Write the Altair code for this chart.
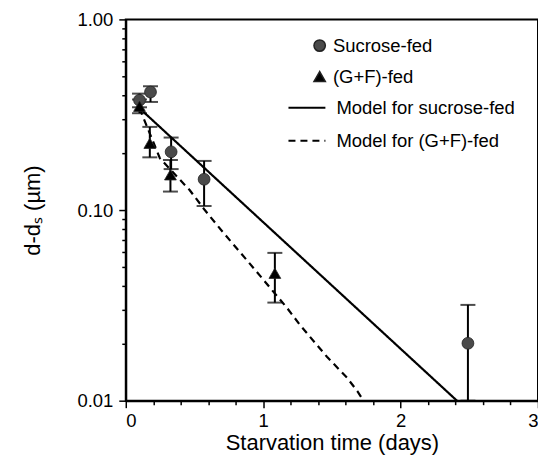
import altair as alt
import pandas as pd

# ---- data ----
suc_x = [0.10, 0.18, 0.33, 0.57, 2.49]
suc_y = [0.377, 0.416, 0.202, 0.145, 0.020]
suc_lo = [0.346, 0.369, 0.164, 0.105, 0.010]
suc_hi = [0.408, 0.446, 0.240, 0.181, 0.0318]

gf_x = [0.10, 0.175, 0.325, 1.085]
gf_y = [0.350, 0.224, 0.153, 0.0466]
gf_lo = [0.322, 0.189, 0.125, 0.0327]
gf_hi = [0.380, 0.273, 0.183, 0.0596]

model_suc_x = [0.10, 2.41]
model_suc_y = [0.342, 0.010]

model_gf_x = [0.10, 0.248, 0.466, 0.575, 0.706, 0.867, 0.99, 1.063, 1.173,
              1.267, 1.391, 1.464, 1.61, 1.69, 1.726]
model_gf_y = [0.342, 0.187, 0.127, 0.100, 0.0767, 0.0561, 0.0441, 0.0381, 0.0307,
              0.025, 0.0196, 0.017, 0.0132, 0.0111, 0.0101]

series_names = ["Sucrose-fed", "(G+F)-fed"]
model_names = ["Model for sucrose-fed", "Model for (G+F)-fed"]

x_ticks = [0, 0.2, 0.4, 0.6, 0.8, 1, 1.2, 1.4, 1.6, 1.8, 2, 2.2, 2.4, 2.6, 2.8, 3]
y_ticks = [0.01, 0.02, 0.03, 0.04, 0.05, 0.06, 0.07, 0.08, 0.09,
           0.1, 0.2, 0.3, 0.4, 0.5, 0.6, 0.7, 0.8, 0.9, 1]

# ---- tables ----
pts = pd.DataFrame({
    "x": suc_x + gf_x,
    "y": suc_y + gf_y,
    "lo": suc_lo + gf_lo,
    "hi": suc_hi + gf_hi,
    "series": [series_names[0]] * len(suc_x) + [series_names[1]] * len(gf_x),
})
lines = pd.DataFrame({
    "x": model_suc_x + model_gf_x,
    "y": model_suc_y + model_gf_y,
    "model": [model_names[0]] * len(model_suc_x) + [model_names[1]] * len(model_gf_x),
})

FONT = "Liberation Sans"

x_major = "datum.value == 0 || datum.value == 1 || datum.value == 2 || datum.value == 3"
y_major = "datum.value == 0.01 || datum.value == 0.1 || datum.value == 1"

x_axis = alt.Axis(
    values=x_ticks,
    labelExpr=f"({x_major}) ? format(datum.value, 'd') : ''",
    tickSize={"condition": {"test": x_major, "value": 7}, "value": 4},
    labelPadding=4,
    title="Starvation time (days)",
    titlePadding=2,
    grid=False,
)
y_axis = alt.Axis(
    values=y_ticks,
    labelExpr=f"({y_major}) ? format(datum.value, '.2f') : ''",
    tickSize={"condition": {"test": y_major, "value": 7}, "value": 4},
    labelPadding=6,
    title="d-dₛ (µm)",
    titlePadding=32,
    grid=False,
)
x_scale = alt.Scale(domain=[0, 3], nice=False)
y_scale = alt.Scale(type="log", domain=[0.01, 1], nice=False)


def X(field):
    return alt.X(f"{field}:Q", scale=x_scale, axis=x_axis, title="Starvation time (days)")


def Y(field):
    return alt.Y(f"{field}:Q", scale=y_scale, axis=y_axis, title="d-dₛ (µm)")


model_lines = alt.Chart(lines).mark_line(color="black", strokeWidth=2.2, clip=True).encode(
    x=X("x"),
    y=Y("y"),
    strokeDash=alt.StrokeDash(
        "model:N",
        scale=alt.Scale(domain=model_names, range=[[1, 0], [7, 5]]),
        legend=alt.Legend(
            title=None,
            orient="none",
            legendX=162,
            legendY=69,
            symbolType="stroke",
            symbolSize=1369,
            symbolStrokeWidth=2,
            symbolStrokeColor="black",
            labelFont=FONT,
            labelFontSize=18.5,
            labelColor="black",
            labelLimit=0,
            labelOffset=10,
            rowPadding=4,
        ),
    ),
    order="x:Q",
)

err_rules = alt.Chart(pts).mark_rule(color="black", strokeWidth=2).encode(
    x=X("x"), y=Y("lo"), y2="hi"
)
cap_lo = alt.Chart(pts).mark_tick(orient="horizontal", color="black", size=15, thickness=2).encode(
    x=X("x"), y=Y("lo")
)
cap_hi = alt.Chart(pts).mark_tick(orient="horizontal", color="black", size=15, thickness=2).encode(
    x=X("x"), y=Y("hi")
)

shape_legend = alt.Legend(
    title=None,
    orient="none",
    legendX=185,
    legendY=17,
    symbolSize=130,
    labelFont=FONT,
    labelFontSize=18.5,
    labelColor="black",
    labelLimit=0,
    labelOffset=4,
    rowPadding=12,
)

points = alt.Chart(pts).mark_point(filled=True, opacity=1, size=140, stroke="#222", strokeWidth=0.8).encode(
    x=X("x"),
    y=Y("y"),
    shape=alt.Shape(
        "series:N",
        scale=alt.Scale(domain=series_names, range=["circle", "triangle-up"]),
        legend=shape_legend,
    ),
    color=alt.Color(
        "series:N",
        scale=alt.Scale(domain=series_names, range=["#4a4a4a", "black"]),
        legend=shape_legend,
    ),
)

chart = (
    alt.layer(model_lines, err_rules, cap_lo, cap_hi, points)
    .properties(
        width=413,
        height=382,
        autosize=alt.AutoSizeParams(type="none"),
        padding={"left": 118, "top": 11, "right": 0, "bottom": 58},
        background="white",
    )
    .configure_view(stroke="black", strokeWidth=2)
    .configure_axis(
        domainColor="black",
        domainWidth=2,
        tickColor="black",
        tickWidth=1.5,
        labelFont=FONT,
        labelFontSize=18.5,
        labelColor="black",
        titleFont=FONT,
        titleFontSize=22,
        titleFontWeight="normal",
        titleColor="black",
    )
    .configure_legend(labelFont=FONT)
)

chart.save("out.html", embed_options={"renderer": "svg", "actions": False})
